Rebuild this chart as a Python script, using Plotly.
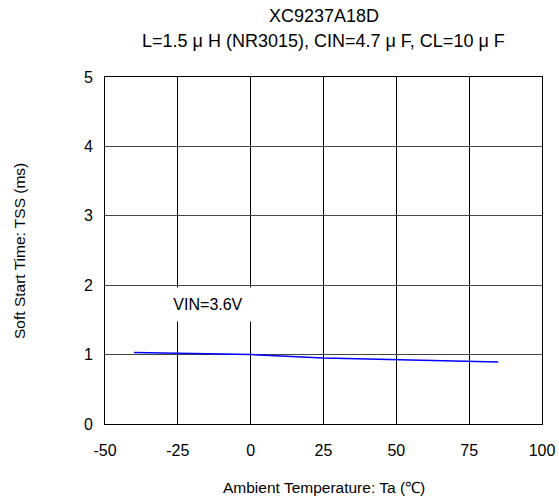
import plotly.graph_objects as go

temps = [-40, -25, 0, 25, 50, 75, 85]
tss = [1.03, 1.02, 1.00, 0.95, 0.925, 0.91, 0.895]
x_ticks = [-50, -25, 0, 25, 50, 75, 100]
x_labels = ["-50", "-25", "0", "25", "50", "75", "100"]
y_ticks = [0, 1, 2, 3, 4, 5]

FONT = "Liberation Sans, Arial, sans-serif"
L, R, T, B = 105, 17, 77, 75
W, H = 559, 499
pw, ph = W - L - R, H - T - B


def py(y_abs):
    """page pixel y -> paper coordinate"""
    return 1 + (T - y_abs) / ph


def px(x_abs):
    return (x_abs - L) / pw


fig = go.Figure()
fig.add_trace(go.Scatter(x=temps, y=tss, mode="lines",
                         line=dict(color="#0000ff", width=1.5), showlegend=False))

fig.update_layout(
    width=W, height=H,
    margin=dict(l=L, r=R, t=T, b=B),
    paper_bgcolor="white", plot_bgcolor="white",
    font=dict(family=FONT, color="black"),
    xaxis=dict(range=[-50, 100], tickvals=x_ticks, ticktext=x_labels, showgrid=True,
               gridcolor="#000000", gridwidth=1, zeroline=False, showline=True,
               linecolor="black", linewidth=1, mirror=True, ticks="",
               tickfont=dict(size=16), ticklabelstandoff=12, automargin=False),
    yaxis=dict(range=[0, 5], tickvals=y_ticks, showgrid=True, gridcolor="#444444",
               gridwidth=1, zeroline=False, showline=True, linecolor="black", linewidth=1,
               mirror=True, ticks="", tickfont=dict(size=16), ticklabelstandoff=8,
               automargin=False),
    annotations=[
        dict(text="XC9237A18D", xref="paper", yref="paper", x=0.5,
             y=py(16), yanchor="middle", showarrow=False, font=dict(size=18)),
        dict(text="L=1.5 μ H (NR3015), CIN=4.7 μ F, CL=10 μ F", xref="paper", yref="paper",
             x=0.5, y=py(41), yanchor="middle", showarrow=False, font=dict(size=18)),
        dict(text="Soft Start Time: TSS (ms)", xref="paper", yref="paper",
             x=px(19), xanchor="center", y=py(251), yanchor="middle", showarrow=False,
             textangle=-90, font=dict(size=15.5)),
        dict(text="Ambient Temperature: Ta (℃)", xref="paper", yref="paper", x=0.5,
             y=py(487), yanchor="middle", showarrow=False, font=dict(size=15.5)),
        dict(text="VIN=3.6V", x=-14.5, y=1.97, xref="x", yref="y", showarrow=False,
             yanchor="top", valign="middle", bgcolor="white", width=100, height=31,
             font=dict(size=16)),
    ],
)

fig.write_html("out.html",
               config={"displayModeBar": False},
               post_script="document.body.style.margin='0';document.body.style.overflow='hidden';")
